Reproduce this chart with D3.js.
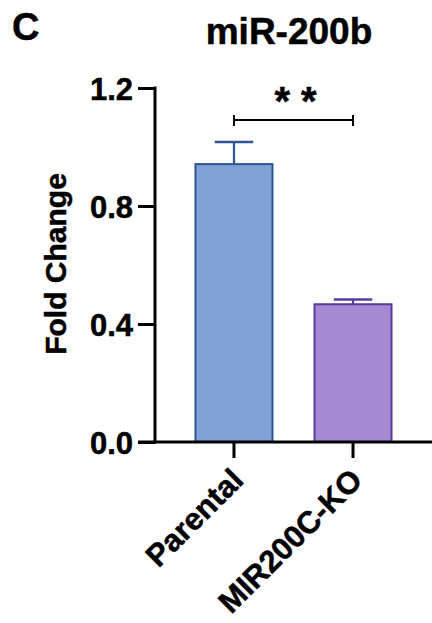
<!DOCTYPE html>
<html>
<head>
<meta charset="utf-8">
<script src="https://cdn.jsdelivr.net/npm/d3@7"></script>
<style>
  html, body { margin: 0; padding: 0; background: #fff; }
  svg { display: block; font-family: "Liberation Sans", Arial, sans-serif; font-weight: bold; }
  .txt { stroke: #000; stroke-width: 0.5px; fill: #000; }
</style>
</head>
<body>
<svg id="chart" width="432" height="623"></svg>
<script>
const categories = ["Parental", "MIR200C-KO"];
const means = [0.942, 0.467];
const errors = [0.075, 0.016];
const yTicks = [0.0, 0.4, 0.8, 1.2];
const fills = ["#7fa1d4", "#a48ad2"];
const strokes = ["#2c5496", "#5b3aa0"];
const title = "miR-200b";
const panel = "C";
const yLabel = "Fold Change";
const sigText = "* *";

const svg = d3.select("#chart");
const y = d3.scaleLinear().domain([0, 1.2]).range([442, 88]);
const x = d3.scaleBand().domain(categories).range([155, 432]).paddingInner(0.353).paddingOuter(0.34);

// panel letter and title
svg.append("text").attr("class", "txt").attr("x", 12).attr("y", 40).attr("font-size", 38).text(panel);
svg.append("text").attr("class", "txt").attr("x", 289).attr("y", 44).attr("font-size", 37)
  .attr("text-anchor", "middle").text(title);

// bars
const g = svg.append("g");
categories.forEach((c, i) => {
  const bx = x(c), bw = x.bandwidth(), cx = bx + bw / 2;
  g.append("line").attr("x1", cx).attr("x2", cx).attr("y1", y(means[i])).attr("y2", y(means[i] + errors[i]))
    .attr("stroke", strokes[i]).attr("stroke-width", 2.2);
  g.append("line").attr("x1", cx - bw * 0.25).attr("x2", cx + bw * 0.25)
    .attr("y1", y(means[i] + errors[i])).attr("y2", y(means[i] + errors[i]))
    .attr("stroke", strokes[i]).attr("stroke-width", 2.5);
  g.append("rect").attr("x", bx).attr("y", y(means[i])).attr("width", bw).attr("height", y(0) - y(means[i]))
    .attr("fill", fills[i]).attr("stroke", strokes[i]).attr("stroke-width", 2);
});

// y axis
const yAxis = d3.axisLeft(y).tickValues(yTicks).tickFormat(d3.format(".1f")).tickSize(17).tickPadding(5);
const ya = svg.append("g").attr("transform", "translate(155,0)").call(yAxis);
ya.select(".domain").attr("stroke", "#000").attr("stroke-width", 3).attr("d", "M0," + (y(1.2) - 1.5) + "V" + (y(0) + 1.5));
ya.selectAll(".tick line").attr("stroke", "#000").attr("stroke-width", 3);
ya.selectAll(".tick text").attr("class", "txt").attr("font-size", 31).attr("font-weight", "bold")
  .attr("font-family", "Liberation Sans, Arial, sans-serif").attr("dy", "0.36em");

// x axis
const xAxis = d3.axisBottom(x).tickSize(16).tickFormat("");
const xa = svg.append("g").attr("transform", "translate(0,442)").call(xAxis);
xa.select(".domain").attr("stroke", "#000").attr("stroke-width", 3).attr("d", "M138,0H432");
xa.selectAll(".tick line").attr("stroke", "#000").attr("stroke-width", 3);

// x labels
categories.forEach(c => {
  const cx = x(c) + x.bandwidth() / 2;
  svg.append("text").attr("class", "txt").attr("transform", `translate(${cx + 11},482) rotate(-45)`)
    .attr("text-anchor", "end").attr("font-size", 31).text(c);
});

// y label
svg.append("text").attr("class", "txt").attr("transform", "translate(66,264) rotate(-90)")
  .attr("text-anchor", "middle").attr("font-size", 30).text(yLabel);

// significance bracket
const c0 = x(categories[0]) + x.bandwidth() / 2, c1 = x(categories[1]) + x.bandwidth() / 2;
const by = 120;
svg.append("path").attr("d", `M${c0},${by - 5}V${by + 6}M${c0},${by}H${c1}M${c1},${by - 5}V${by + 6}`)
  .attr("stroke", "#000").attr("stroke-width", 2).attr("fill", "none");
svg.append("text").attr("class", "txt").attr("x", (c0 + c1) / 2 + 2).attr("y", 115).attr("text-anchor", "middle")
  .attr("font-size", 40).text(sigText);
</script>
</body>
</html>
